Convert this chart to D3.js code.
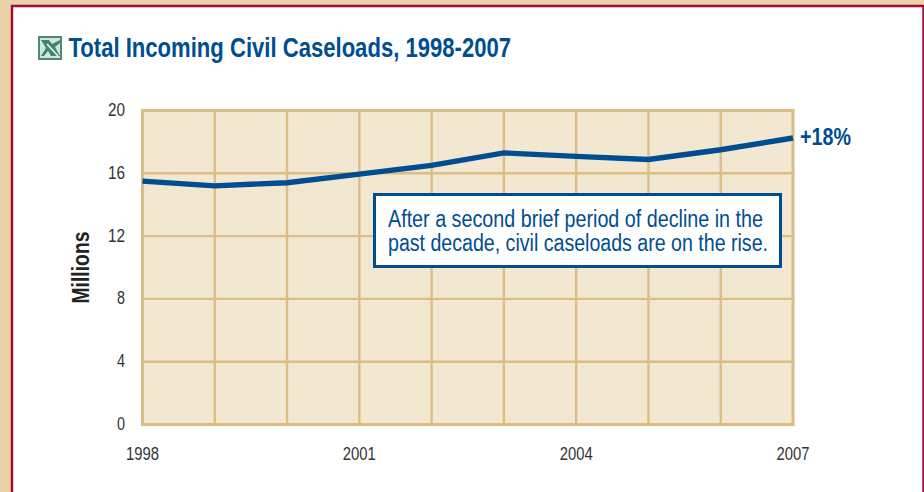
<!DOCTYPE html>
<html><head><meta charset="utf-8">
<script src="https://cdn.jsdelivr.net/npm/d3@7"></script>
<style>html,body{margin:0;padding:0;background:#fff}svg{display:block}text{font-family:"Liberation Sans",Arial,sans-serif}</style>
</head><body><svg id="c" width="924" height="492"></svg>
<script>
const years=[1998,1999,2000,2001,2002,2003,2004,2005,2006,2007];
const caseloads=[15.5,15.2,15.4,15.95,16.5,17.3,17.08,16.88,17.5,18.25];
const yTicks=[0,4,8,12,16,20];
const xTicks=[1998,2001,2004,2007];
const titleText="Total Incoming Civil Caseloads, 1998-2007";
const noteLines=["After a second brief period of decline in the","past decade, civil caseloads are on the rise."];
const endLabel="+18%";
const yAxisLabel="Millions";

const svg=d3.select("#c");
const tan="#e8d3a8",crimson="#a8063a",grid="#dcbe84",plotBg="#f2e8d2",blue="#004d91",ink="#333";
const x=d3.scaleLinear().domain([1998,2007]).range([142.5,793]);
const y=d3.scaleLinear().domain([0,20]).range([424.5,110.5]);

svg.append("rect").attr("width",924).attr("height",492).attr("fill",tan);
svg.append("rect").attr("x",13).attr("y",7).attr("width",910).attr("height",485).attr("fill","#fff");
svg.append("path").attr("d","M12,492V6H923.5V492").attr("fill","none").attr("stroke",crimson).attr("stroke-width",2.4);

// icon
const ic=svg.append("g").attr("transform","translate(38,36)");
ic.append("rect").attr("x",0).attr("y",0).attr("width",24).attr("height",24).attr("fill","#4b8a78");
ic.append("rect").attr("x",2).attr("y",2).attr("width",20).attr("height",20).attr("fill","#d5e5de");
ic.append("path").attr("d","M3,4H11L14,8L22,4V7L17,11L22,20H13L10,15L6,20H3L8,12Z").attr("fill","#3f8571");
ic.append("path").attr("d","M9,8L20,20").attr("stroke","#eef5f2").attr("stroke-width",1.6);

svg.append("text").attr("x",68.5).attr("y",57).attr("font-size",27).attr("font-weight",700).attr("fill",blue)
  .attr("textLength",442.5).attr("lengthAdjust","spacingAndGlyphs").text(titleText);

// plot
svg.append("rect").attr("x",x(1998)).attr("y",y(20)).attr("width",x(2007)-x(1998)).attr("height",y(0)-y(20)).attr("fill",plotBg);
svg.append("g").selectAll("line").data(years).join("line")
  .attr("x1",d=>x(d)).attr("x2",d=>x(d)).attr("y1",y(0)).attr("y2",y(20)).attr("stroke",grid).attr("stroke-width",d=>(d===1998||d===2007)?3:2.4);
svg.append("g").selectAll("line").data(yTicks).join("line")
  .attr("x1",x(1998)-1.5).attr("x2",x(2007)+1.5).attr("y1",d=>y(d)).attr("y2",d=>y(d)).attr("stroke",grid).attr("stroke-width",d=>(d===0||d===20)?3:2.4);

const line=d3.line().x((d,i)=>x(years[i])).y(d=>y(d));
svg.append("path").datum(caseloads).attr("d",line).attr("fill","none").attr("stroke",blue).attr("stroke-width",5.4);

svg.append("g").selectAll("text").data(yTicks).join("text")
  .attr("x",125).attr("y",d=>y(d)+5.5).attr("text-anchor","end").attr("font-size",17.5).attr("fill",ink)
  .attr("textLength",d=>d<10?8:17).attr("lengthAdjust","spacingAndGlyphs").text(d=>d);
svg.append("g").selectAll("text").data(xTicks).join("text")
  .attr("x",d=>x(d)).attr("y",459.5).attr("text-anchor","middle").attr("font-size",17.5).attr("fill",ink)
  .attr("textLength",33).attr("lengthAdjust","spacingAndGlyphs").text(d=>d);

svg.append("text").attr("transform","translate(88.5,267.5) rotate(-90)").attr("text-anchor","middle")
  .attr("font-size",23.5).attr("font-weight",700).attr("fill","#222").attr("textLength",72).attr("lengthAdjust","spacingAndGlyphs").text(yAxisLabel);

svg.append("text").attr("x",800).attr("y",145).attr("font-size",24).attr("font-weight",700).attr("fill",blue)
  .attr("textLength",51).attr("lengthAdjust","spacingAndGlyphs").text(endLabel);

svg.append("rect").attr("x",374.5).attr("y",194.5).attr("width",406).attr("height",72).attr("fill","#fff").attr("stroke",blue).attr("stroke-width",3);
svg.append("g").selectAll("text").data(noteLines).join("text")
  .attr("x",388).attr("y",(d,i)=>226.5+i*24).attr("font-size",23).attr("fill",blue)
  .attr("textLength",(d,i)=>i?380:375).attr("lengthAdjust","spacingAndGlyphs").text(d=>d);
</script></body></html>
